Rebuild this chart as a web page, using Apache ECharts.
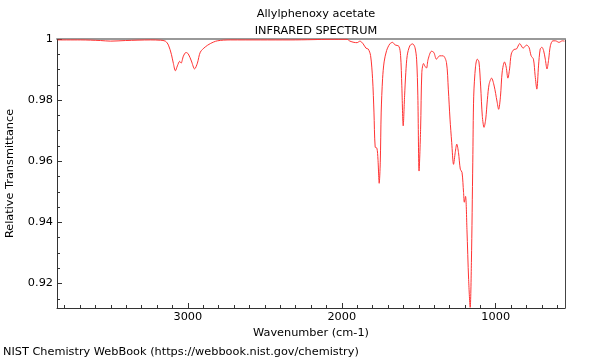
<!DOCTYPE html>
<html>
<head>
<meta charset="utf-8">
<script src="https://cdn.jsdelivr.net/npm/echarts@6/dist/echarts.min.js"></script>
<style>html,body{margin:0;padding:0;background:#fff;}#c{width:600px;height:360px;}</style>
</head>
<body>
<div id="c"></div>
<script>
const wavenumbers = [3846,3697,3567,3502,3405,3243,3178,3146,3126,3107,3094,3081,3068,3053,3044,3029,3012,2997,2977,2956,2938,2919,2887,2854,2809,2725,2530,2336,2187,2076,1966,1947,1921,1901,1882,1861,1843,1828,1813,1800,1791,1783,1772,1765,1757,1750,1744,1735,1725,1709,1688,1670,1655,1629,1618,1610,1601,1592,1584,1575,1558,1540,1525,1514,1506,1498,1488,1480,1469,1461,1450,1439,1417,1402,1385,1364,1342,1320,1308,1297,1286,1274,1263,1253,1242,1230,1219,1209,1204,1196,1187,1176,1166,1158,1149,1143,1131,1120,1109,1098,1087,1076,1065,1054,1043,1027,1010,992,981,969,958,943,932,921,910,899,881,866,844,822,800,784,770,755,744,733,722,711,700,689,678,667,656,645,629,612,589,567,553];
const transmittance = [0.9997,0.9997,0.9995,0.9993,0.9995,0.9997,0.9996,0.9993,0.998,0.995,0.992,0.9896,0.9912,0.9927,0.9921,0.9944,0.9956,0.9951,0.9928,0.9902,0.9921,0.9957,0.9974,0.9985,0.9994,0.9997,0.9997,0.9997,0.9998,0.9999,0.9999,0.9993,0.9989,0.9988,0.9993,0.9984,0.997,0.9967,0.9946,0.987,0.9761,0.9646,0.9643,0.9607,0.9528,0.9597,0.9761,0.987,0.9925,0.9962,0.9984,0.9989,0.9981,0.9976,0.9946,0.9847,0.9716,0.9814,0.9891,0.9946,0.9978,0.9984,0.9973,0.9934,0.9814,0.9568,0.9705,0.9891,0.992,0.9912,0.9905,0.9934,0.996,0.9956,0.9934,0.9945,0.9945,0.9923,0.9836,0.9738,0.9662,0.959,0.9629,0.9656,0.9629,0.9574,0.9564,0.9498,0.9466,0.9485,0.9377,0.9213,0.9122,0.9269,0.9597,0.9813,0.9911,0.9934,0.9925,0.9846,0.9747,0.9711,0.9738,0.9803,0.9852,0.9872,0.9846,0.9797,0.977,0.9813,0.9892,0.9925,0.9908,0.9872,0.9902,0.9951,0.9966,0.9967,0.9985,0.997,0.998,0.9973,0.9945,0.9934,0.988,0.9836,0.9912,0.9967,0.9973,0.9962,0.9934,0.9902,0.9934,0.9978,0.9994,0.9994,0.9989,0.9994,0.9993];
const xMajorTicks = [1000, 2000, 3000];
const xMinorTicks = [600,700,800,900,1000,1100,1200,1300,1400,1500,1600,1700,1800,1900,2000,2100,2200,2300,2400,2500,2600,2700,2800,2900,3000,3100,3200,3300,3400,3500,3600,3700,3800];
const yMajorTicks = [0.92, 0.94, 0.96, 0.98, 1];
const yMinorTicks = [0.915,0.92,0.925,0.93,0.935,0.94,0.945,0.95,0.955,0.96,0.965,0.97,0.975,0.98,0.985,0.99,0.995,1];

const FONT = 'DejaVu Sans';
const FS = 11.3;
const chart = echarts.init(document.getElementById('c'), null, {renderer: 'canvas'});
const xRange = {min: 550, max: 3850, inverse: true, type: 'value'};
const yRange = {min: 0.912, max: 1, type: 'value'};
const fmtY = v => String(Math.round(v * 100) / 100);
const fmtX = v => String(Math.round(v));
chart.setOption({
  animation: false,
  backgroundColor: '#fff',
  textStyle: {fontFamily: FONT},
  title: [
    {text: 'Allylphenoxy acetate\nINFRARED SPECTRUM', left: 311, top: 1, textAlign: 'center',
     textStyle: {fontFamily: FONT, fontSize: FS, fontWeight: 'normal', color: '#000', lineHeight: 17}},
    {text: 'NIST Chemistry WebBook (https://webbook.nist.gov/chemistry)', left: -2, top: 342,
     textStyle: {fontFamily: FONT, fontSize: FS, fontWeight: 'normal', color: '#000'}}
  ],
  grid: {left: 57, right: 35, top: 39, bottom: 52, show: false, containLabel: false, outerBoundsMode: 'none'},
  xAxis: [
    Object.assign({}, xRange, {
      position: 'bottom', name: 'Wavenumber (cm-1)', nameLocation: 'middle', nameGap: 20,
      nameTextStyle: {fontFamily: FONT, fontSize: FS, color: '#000'},
      axisLine: {show: true, lineStyle: {color: '#333', width: 1}},
      axisTick: {show: true, inside: true, length: 3, customValues: xMinorTicks, lineStyle: {color: '#333'}},
      axisLabel: {show: true, customValues: xMajorTicks, margin: 4, formatter: fmtX, color: '#000', fontFamily: FONT, fontSize: FS},
      splitLine: {show: false}
    }),
    Object.assign({}, xRange, {
      position: 'bottom', axisLine: {show: false},
      axisTick: {show: true, inside: true, length: 5, customValues: xMajorTicks, lineStyle: {color: '#333'}},
      axisLabel: {show: false}, splitLine: {show: false}
    }),
    Object.assign({}, xRange, {
      position: 'top', axisLine: {show: true, lineStyle: {color: '#999', width: 2}},
      axisTick: {show: false}, axisLabel: {show: false}, splitLine: {show: false}
    })
  ],
  yAxis: [
    Object.assign({}, yRange, {
      position: 'left', name: 'Relative Transmittance', nameLocation: 'middle', nameGap: 41, nameRotate: 90,
      nameTextStyle: {fontFamily: FONT, fontSize: FS, color: '#000'},
      axisLine: {show: true, lineStyle: {color: '#333', width: 1}},
      axisTick: {show: true, inside: true, length: 5, customValues: yMajorTicks, lineStyle: {color: '#333'}},
      axisLabel: {show: true, customValues: yMajorTicks, margin: 4, formatter: fmtY, color: '#000', fontFamily: FONT, fontSize: FS},
      splitLine: {show: false}
    }),
    Object.assign({}, yRange, {
      position: 'left', axisLine: {show: false},
      axisTick: {show: true, inside: true, length: 3, customValues: yMinorTicks, lineStyle: {color: '#333'}},
      axisLabel: {show: false}, splitLine: {show: false}
    }),
    Object.assign({}, yRange, {
      position: 'right', axisLine: {show: true, lineStyle: {color: '#444', width: 1}},
      axisTick: {show: false}, axisLabel: {show: false}, splitLine: {show: false}
    })
  ],
  series: [{
    type: 'line',
    xAxisIndex: 0, yAxisIndex: 0,
    data: wavenumbers.map((w, i) => [w, transmittance[i]]),
    showSymbol: false,
    symbol: 'none',
    smooth: 0.3,
    clip: true,
    lineStyle: {color: '#ff3333', width: 1},
    z: 1
  }]
});
</script>
</body>
</html>
